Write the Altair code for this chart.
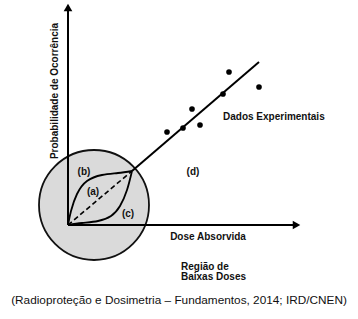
import altair as alt
import pandas as pd

# Coordinate units: dose (x) and probability (y), origin at axes crossing
# Experimental data points
exp_dose = [99, 115, 124, 132, 155, 161, 191]
exp_prob = [93, 97, 116, 100, 131, 153, 138]

# Fitted line through the data (from the lens tip upward)
fit_dose = [64, 191]
fit_prob = [54, 163]

# Extrapolation models in the low-dose region
curve_b_dose = [0, 3, 9, 19, 34, 50, 64]
curve_b_prob = [0, 14, 31, 44, 50, 52, 54]
curve_c_dose = [0, 14, 30, 43, 52, 59, 64]
curve_c_prob = [0, 2, 4, 9, 19, 35, 54]
linear_a_dose = [0, 64]
linear_a_prob = [0, 54]

# Low-dose region circle
region_dose = [26]
region_prob = [20]

# Axis extents
yaxis_dose = [0, 0]
yaxis_prob = [0, 214]
xaxis_dose = [0, 225]
xaxis_prob = [0, 0]

labels_text = ["(b)", "(a)", "(c)", "(d)", "Dose Absorvida"]
labels_dose = [16, 25, 60, 125, 140]
labels_prob = [53, 33, 11, 53, -12]

W, H = 358, 319
xs = alt.Scale(domain=[-68, 290], nice=False, zero=False)
ys = alt.Scale(domain=[-94, 225], nice=False, zero=False)


def X(f="x"):
    return alt.X(f"{f}:Q", scale=xs, axis=None)


def Y(f="y"):
    return alt.Y(f"{f}:Q", scale=ys, axis=None)


circle = alt.Chart(pd.DataFrame({"x": region_dose, "y": region_prob})).mark_point(
    shape="circle", size=12100, filled=True, fill="#dadada", fillOpacity=1,
    stroke="#111111", strokeWidth=1.8
).encode(x=X(), y=Y())

yaxis = alt.Chart(pd.DataFrame({"x": yaxis_dose, "y": yaxis_prob})).mark_line(
    color="#000000", strokeWidth=2).encode(x=X(), y=Y())
xaxis = alt.Chart(pd.DataFrame({"x": xaxis_dose, "y": xaxis_prob})).mark_line(
    color="#000000", strokeWidth=2).encode(x=X(), y=Y())

yarrow = alt.Chart(pd.DataFrame({"x": [0], "y": [217.5]})).mark_point(
    shape="triangle-up", size=75, filled=True, color="#000000", opacity=1
).encode(x=X(), y=Y())
xarrow = alt.Chart(pd.DataFrame({"x": [228.5], "y": [0]})).mark_point(
    shape="triangle-right", size=75, filled=True, color="#000000", opacity=1
).encode(x=X(), y=Y())

fit = alt.Chart(pd.DataFrame({"x": fit_dose, "y": fit_prob})).mark_line(
    color="#000000", strokeWidth=2).encode(x=X(), y=Y())

cb = alt.Chart(pd.DataFrame({"x": curve_b_dose, "y": curve_b_prob})).mark_line(
    color="#000000", strokeWidth=1.8, interpolate="natural").encode(x=X(), y=Y())
cc = alt.Chart(pd.DataFrame({"x": curve_c_dose, "y": curve_c_prob})).mark_line(
    color="#000000", strokeWidth=1.8, interpolate="natural").encode(x=X(), y=Y())
ca = alt.Chart(pd.DataFrame({"x": linear_a_dose, "y": linear_a_prob})).mark_line(
    color="#000000", strokeWidth=1.6, strokeDash=[5, 3]).encode(x=X(), y=Y())

pts = alt.Chart(pd.DataFrame({"x": exp_dose, "y": exp_prob})).mark_point(
    shape="circle", size=32, filled=True, color="#000000", opacity=1
).encode(x=X(), y=Y())

BOLD = dict(font="Liberation Sans", fontWeight="bold", fontSize=10, color="#111111")

lbl = alt.Chart(pd.DataFrame({"x": labels_dose, "y": labels_prob, "t": labels_text})).mark_text(
    align="center", baseline="middle", **BOLD
).encode(x=X(), y=Y(), text="t:N")

dados = alt.Chart(pd.DataFrame({"x": [155], "y": [108], "t": ["Dados Experimentais"]})).mark_text(
    align="left", baseline="middle", **BOLD
).encode(x=X(), y=Y(), text="t:N")

regiao = alt.Chart(pd.DataFrame({"x": [113, 113], "y": [-42, -52],
                                 "t": ["Região de", "Baixas Doses"]})).mark_text(
    align="left", baseline="middle", **BOLD
).encode(x=X(), y=Y(), text="t:N")

ytitle = alt.Chart(pd.DataFrame({"x": [-13], "y": [134], "t": ["Probabilidade de Ocorrência"]})).mark_text(
    align="center", baseline="middle", angle=270, **BOLD
).encode(x=X(), y=Y(), text="t:N")

caption = alt.Chart(pd.DataFrame({"x": [111], "y": [-75],
                                  "t": ["(Radioproteção e Dosimetria – Fundamentos, 2014; IRD/CNEN)"]})).mark_text(
    font="Liberation Sans", fontSize=11.8, color="#111111",
    align="center", baseline="middle"
).encode(x=X(), y=Y(), text="t:N")

chart = alt.layer(
    circle, yaxis, xaxis, yarrow, xarrow, fit, cb, cc, ca, pts,
    lbl, dados, regiao, ytitle, caption
).properties(
    width=W, height=H, padding=0, autosize=alt.AutoSizeParams(type="none"),
    background="#ffffff"
).configure_view(stroke=None)

chart.save("out.html", embed_options={"renderer": "svg", "actions": False})
